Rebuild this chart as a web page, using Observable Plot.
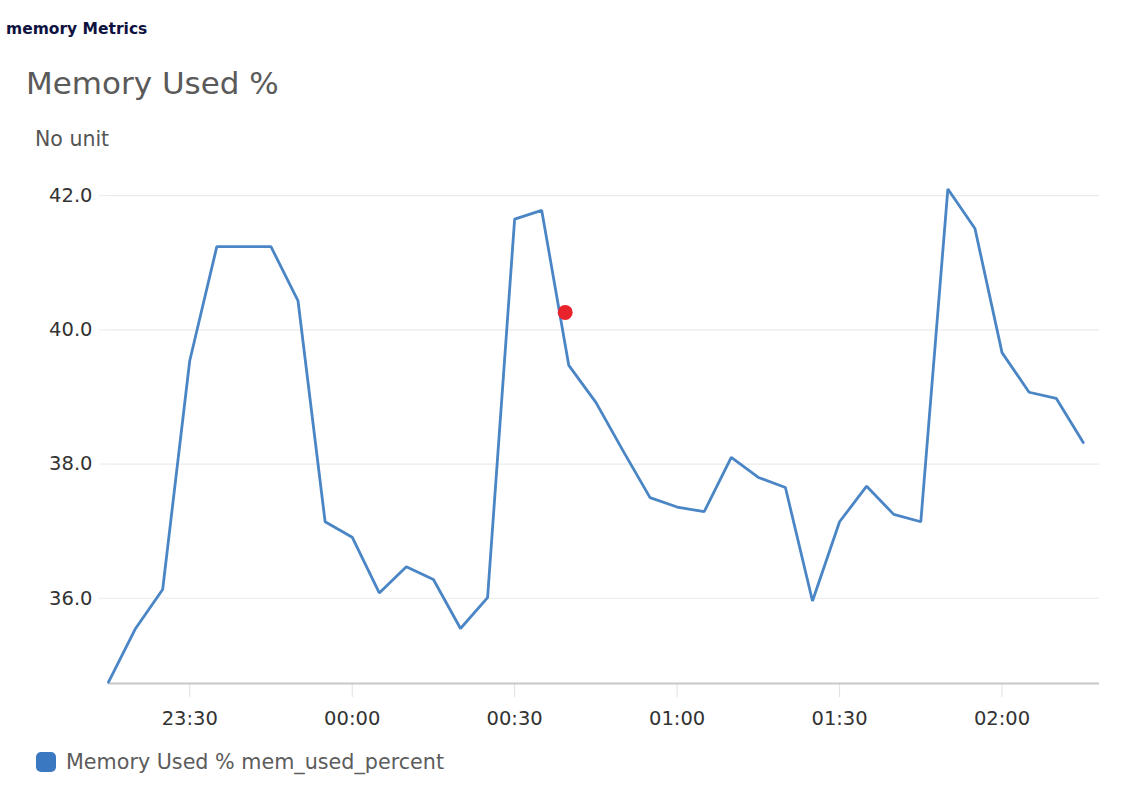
<!DOCTYPE html>
<html>
<head>
<meta charset="utf-8">
<script src="https://cdn.jsdelivr.net/npm/d3@7"></script>
<script src="https://cdn.jsdelivr.net/npm/@observablehq/plot@0.6"></script>
<style>
  body { margin: 0; background: #fff; width: 1135px; height: 801px; position: relative; overflow: hidden; }
  .abs { position: absolute; line-height: 1; white-space: nowrap; }
  #page-title { left: 6px; top: 22px; font-family: "DejaVu Sans", sans-serif; font-weight: 700; font-size: 15.5px; color: #0d1240; }
  #chart-title { left: 26px; top: 68px; font-family: "DejaVu Sans", sans-serif; font-size: 31px; color: #5a5a5a; }
  #unit { left: 35px; top: 129px; font-family: "DejaVu Sans", sans-serif; font-size: 20.5px; color: #555; }
  #chart { position: absolute; left: 0; top: 160px; }
  #legend { left: 36px; top: 752px; display: flex; align-items: center; font-family: "DejaVu Sans", sans-serif; font-size: 20.7px; color: #5c5c5c; }
  #legend .sw { width: 20px; height: 20px; border-radius: 5px; margin-right: 10px; }
</style>
</head>
<body>
<div class="abs" id="page-title">memory Metrics</div>
<div class="abs" id="chart-title">Memory Used %</div>
<div class="abs" id="unit">No unit</div>
<div id="chart"></div>
<div class="abs" id="legend"><span class="sw"></span><span class="lbl"></span></div>
<script>
// Sample times (5-minute period) and mem_used_percent readings
const times = [
  "23:15","23:20","23:25","23:30","23:35","23:40","23:45","23:50","23:55",
  "00:00","00:05","00:10","00:15","00:20","00:25","00:30","00:35","00:40","00:45","00:50","00:55",
  "01:00","01:05","01:10","01:15","01:20","01:25","01:30","01:35","01:40","01:45","01:50","01:55",
  "02:00","02:05","02:10","02:15"
];
const memUsed = [
  34.75, 35.55, 36.13, 39.54, 41.24, 41.24, 41.24, 40.43, 37.14,
  36.91, 36.08, 36.47, 36.28, 35.55, 36.01, 41.65, 41.78, 39.47, 38.92, 38.20, 37.50,
  37.36, 37.29, 38.10, 37.80, 37.65, 35.96, 37.14, 37.67, 37.25, 37.14, 42.10, 41.51,
  39.66, 39.07, 38.98, 38.32
];
const xTickLabels = ["23:30","00:00","00:30","01:00","01:30","02:00"];
const yTicks = [36, 38, 40, 42];
const timeRange = ["23:15", "02:18"];
const valueRange = [34.73, 42.3];
const highlight = [{time: "00:39:20", value: 40.26}];
const seriesLabel = "Memory Used % mem_used_percent";

const lineColor = "#4a85c5";
const swatchColor = "#3a78c2";

// Evening times fall on day one, after-midnight times on day two
function toDate(s) {
  const [h, m, sec = 0] = s.split(":").map(Number);
  return new Date(2024, 0, h >= 12 ? 1 : 2, h, m, sec);
}

const data = times.map((t, i) => ({time: toDate(t), value: memUsed[i]}));
const marks = highlight.map(d => ({time: toDate(d.time), value: d.value}));

const chart = Plot.plot({
  width: 1135,
  height: 580,
  marginLeft: 108,
  marginRight: 36,
  marginTop: 15,
  marginBottom: 57,
  style: {fontFamily: "DejaVu Sans, sans-serif", fontSize: "19.5px", background: "transparent"},
  x: {type: "time", domain: timeRange.map(toDate)},
  y: {domain: valueRange},
  marks: [
    Plot.gridY(yTicks, {stroke: "#ebebeb", strokeOpacity: 1, strokeWidth: 1.2}),
    Plot.axisY(yTicks, {
      tickFormat: d3.format(".1f"),
      tickSize: 9, tickPadding: 7,
      stroke: "#ebebeb", strokeOpacity: 1,
      fill: "#333", label: null
    }),
    Plot.axisX(xTickLabels.map(toDate), {
      tickFormat: d3.timeFormat("%H:%M"),
      tickSize: 14, tickPadding: 14,
      stroke: "#e0e0e0", strokeOpacity: 1,
      fill: "#333", label: null
    }),
    Plot.ruleY([valueRange[0]], {stroke: "#c8c8c8", strokeWidth: 2}),
    Plot.lineY(data, {x: "time", y: "value", stroke: lineColor, strokeWidth: 2.8, strokeLinejoin: "miter"}),
    Plot.dot(marks, {x: "time", y: "value", r: 7.5, fill: "#e8232b", stroke: "none"})
  ]
});
document.getElementById("chart").appendChild(chart);

document.querySelector("#legend .sw").style.background = swatchColor;
document.querySelector("#legend .lbl").textContent = seriesLabel;
</script>
</body>
</html>
